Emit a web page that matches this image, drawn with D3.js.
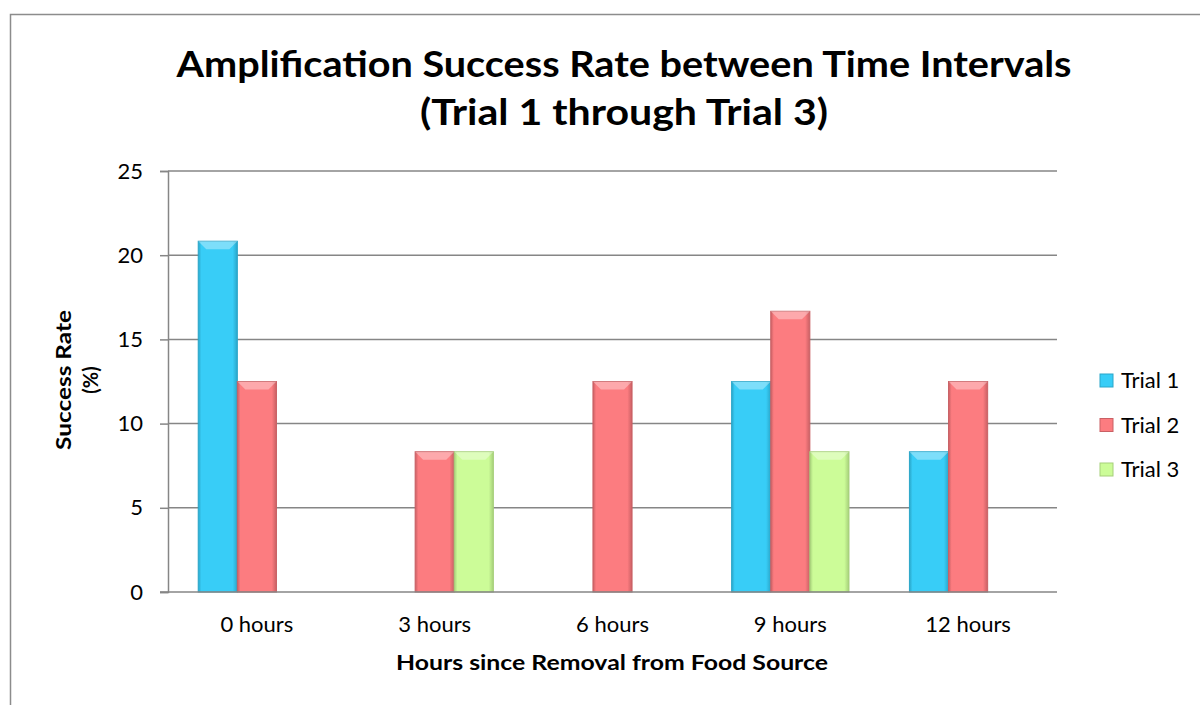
<!DOCTYPE html>
<html>
<head>
<meta charset="utf-8">
<script src="https://cdn.jsdelivr.net/npm/d3@7"></script>
<style>
  body { margin: 0; background: #fff; }
  svg { font-family: Lato, "Open Sans", sans-serif; }
</style>
</head>
<body>
<svg id="chart" width="1200" height="705"></svg>
<script>
// data
var categories = ['0 hours', '3 hours', '6 hours', '9 hours', '12 hours'];
var seriesNames = ['Trial 1', 'Trial 2', 'Trial 3'];
var trial1 = [20.83, 0, 0, 12.5, 8.33];
var trial2 = [12.5, 8.33, 12.5, 16.67, 12.5];
var trial3 = [0, 8.33, 0, 8.33, 0];
var yTicks = [0, 5, 10, 15, 20, 25];

var colors = ['#38cdf7', '#fc7c80', '#ccfc98'];
var edges = ['#2aa6c9', '#c96064', '#a6cf7a'];

var svg = d3.select('#chart');
var plot = { left: 168, top: 171, right: 1057, bottom: 592 };

// outer border (chart is cut off at right and bottom)
svg.append('rect').attr('x', 10.5).attr('y', 14.5).attr('width', 1200).attr('height', 720)
  .attr('fill', 'none').attr('stroke', '#8c8c8c').attr('stroke-width', 1.5);

var x = d3.scaleBand().domain(categories).range([plot.left, plot.right]).paddingInner(0.34).paddingOuter(0.17);
var xs = d3.scaleBand().domain(seriesNames).range([0, x.bandwidth()]);
var y = d3.scaleLinear().domain([0, 25]).range([plot.bottom, plot.top]);

// gridlines + y axis
var yAxis = svg.append('g').attr('transform', 'translate(' + plot.left + ',0)')
  .call(d3.axisLeft(y).tickValues(yTicks).tickSize(8).tickPadding(17).tickFormat(d3.format('d')));
yAxis.attr('font-family', null).attr('font-size', null);
yAxis.select('.domain').attr('stroke', '#868686').attr('stroke-width', 1.5);
yAxis.selectAll('.tick line').attr('stroke', '#868686').attr('stroke-width', 1.5);
yAxis.selectAll('.tick text').attr('font-size', 22).attr('fill', '#000');

svg.append('g').selectAll('line').data(yTicks.filter(d => d > 0)).join('line')
  .attr('x1', plot.left).attr('x2', plot.right)
  .attr('y1', d => y(d)).attr('y2', d => y(d))
  .attr('stroke', '#868686').attr('stroke-width', 1.5);

// bars
var rows = [];
categories.forEach((c, i) => {
  [trial1, trial2, trial3].forEach((s, j) => {
    if (s[i] > 0) rows.push({ cat: c, name: seriesNames[j], idx: j, value: s[i] });
  });
});

var defs = svg.append('defs');
colors.forEach((c, j) => {
  var g = defs.append('linearGradient').attr('id', 'grad' + j).attr('x1', 0).attr('x2', 1).attr('y1', 0).attr('y2', 0);
  g.append('stop').attr('offset', '0%').attr('stop-color', edges[j]);
  g.append('stop').attr('offset', '8%').attr('stop-color', c);
  g.append('stop').attr('offset', '88%').attr('stop-color', c);
  g.append('stop').attr('offset', '100%').attr('stop-color', edges[j]);
});

var bars = svg.append('g').selectAll('g').data(rows).join('g');
bars.append('rect')
  .attr('x', d => x(d.cat) + xs(d.name))
  .attr('y', d => y(d.value))
  .attr('width', xs.bandwidth())
  .attr('height', d => y(0) - y(d.value))
  .attr('fill', d => 'url(#grad' + d.idx + ')')
  .attr('stroke', d => edges[d.idx]).attr('stroke-width', 1);
// bevel highlight at top
bars.append('path')
  .attr('d', d => {
    var x0 = x(d.cat) + xs(d.name), x1 = x0 + xs.bandwidth(), t = y(d.value), b = 8;
    return 'M' + x0 + ',' + t + 'L' + x1 + ',' + t + 'L' + (x1 - b) + ',' + (t + b) + 'L' + (x0 + b) + ',' + (t + b) + 'Z';
  })
  .attr('fill', '#fff').attr('opacity', 0.35);

// x axis line
svg.append('line').attr('x1', 160).attr('x2', plot.right).attr('y1', plot.bottom).attr('y2', plot.bottom)
  .attr('stroke', '#868686').attr('stroke-width', 1.5);

svg.append('g').selectAll('text').data(categories).join('text')
  .attr('x', d => x(d) + x.bandwidth() / 2).attr('y', 632)
  .attr('text-anchor', 'middle').attr('font-size', 22).text(d => d);

// titles
svg.append('text').attr('x', 624).attr('y', 77).attr('text-anchor', 'middle')
  .attr('font-size', 36).attr('font-weight', 'bold')
  .attr('textLength', 895).attr('lengthAdjust', 'spacingAndGlyphs')
  .text('Amplification Success Rate between Time Intervals');
svg.append('text').attr('x', 624).attr('y', 125).attr('text-anchor', 'middle')
  .attr('font-size', 36).attr('font-weight', 'bold')
  .attr('textLength', 408).attr('lengthAdjust', 'spacingAndGlyphs')
  .text('(Trial 1 through Trial 3)');

svg.append('text').attr('x', 612).attr('y', 670).attr('text-anchor', 'middle')
  .attr('font-size', 20).attr('font-weight', 'bold')
  .attr('textLength', 432).attr('lengthAdjust', 'spacingAndGlyphs')
  .text('Hours since Removal from Food Source');

var yt = svg.append('text').attr('transform', 'rotate(-90)')
  .attr('text-anchor', 'middle').attr('font-size', 20).attr('font-weight', 'bold');
yt.append('tspan').attr('x', -380).attr('y', 71).attr('textLength', 140).attr('lengthAdjust', 'spacingAndGlyphs').text('Success Rate');
yt.append('tspan').attr('x', -380).attr('y', 98).text('(%)');

// legend
var leg = svg.append('g').selectAll('g').data(seriesNames).join('g')
  .attr('transform', (d, i) => 'translate(1100,' + (374 + i * 44.5) + ')');
leg.append('rect').attr('width', 13).attr('height', 13)
  .attr('fill', (d, i) => colors[i]).attr('stroke', (d, i) => edges[i]);
leg.append('text').attr('x', 21).attr('y', 14).attr('font-size', 22).text(d => d);
</script>
</body>
</html>
